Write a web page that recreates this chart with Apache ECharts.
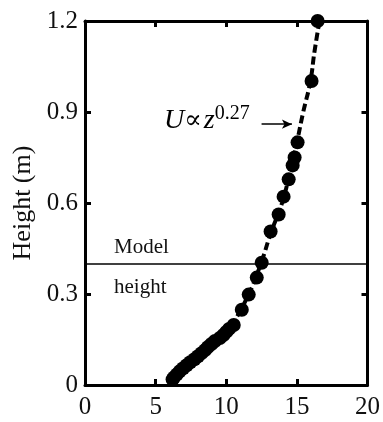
<!DOCTYPE html>
<html>
<head>
<meta charset="utf-8">
<script src="https://cdn.jsdelivr.net/npm/echarts@6/dist/echarts.min.js"></script>
<style>html,body{margin:0;padding:0;background:#fff;}#c{width:383px;height:422px;}</style>
</head>
<body>
<div id="c"></div>
<script>
// Measured velocity profile: U (x) vs height (y)
var measU = [16.47, 16.04, 15.05, 14.84, 14.70, 14.42, 14.06, 13.71, 13.14, 12.51, 12.16, 11.59, 11.10, 10.53,
             10.2, 10.0, 9.8, 9.55, 9.2, 8.95, 8.7, 8.5, 8.25, 8.0, 7.75, 7.45, 7.2, 6.95, 6.7, 6.5, 6.3, 6.2];
var measZ = [1.200, 1.002, 0.800, 0.750, 0.724, 0.678, 0.621, 0.562, 0.506, 0.403, 0.354, 0.298, 0.248, 0.198,
             0.185, 0.175, 0.165, 0.155, 0.145, 0.135, 0.125, 0.115, 0.105, 0.095, 0.085, 0.075, 0.065, 0.055, 0.045, 0.035, 0.025, 0.018];
// Power-law fit curve (dashed)
var fitU = [16.6, 16.25, 15.95, 15.45, 15.0, 14.5, 13.95, 13.15, 12.45, 11.6, 10.45];
var fitZ = [1.2, 1.1, 1.0, 0.9, 0.8, 0.7, 0.6, 0.5, 0.4, 0.3, 0.2];
var xTicks = ['0', '5', '10', '15', '20'];
var yTicks = ['0', '0.3', '0.6', '0.9', '1.2'];
var modelHeight = 0.4;
var arrowFrom = [12.5, 0.86], arrowTo = [14.65, 0.86];

var FONT = '"Liberation Serif", "Times New Roman", serif';
var chart = echarts.init(document.getElementById('c'), null, {renderer: 'canvas'});

function zip(a, b) { return a.map(function (v, i) { return [v, b[i]]; }); }

var tickStyle = {show: true, inside: true, length: 6, lineStyle: {color: '#000', width: 3}};
var lineStyleAxis = {show: true, onZero: false, lineStyle: {color: '#000', width: 3}};

chart.setOption({
  animation: false,
  backgroundColor: '#fff',
  grid: {left: 85, right: 15, top: 21, bottom: 37, show: false},
  xAxis: [{
    type: 'value', min: 0, max: 20, interval: 5, position: 'bottom',
    axisLine: lineStyleAxis, axisTick: tickStyle, splitLine: {show: false},
    axisLabel: {color: '#111', fontFamily: FONT, fontSize: 25, fontWeight: 'normal', margin: 10,
      formatter: function (v) { return xTicks[Math.round(v / 5)]; }}
  }, {
    type: 'value', min: 0, max: 20, interval: 5, position: 'top',
    axisLine: lineStyleAxis, axisTick: tickStyle, splitLine: {show: false},
    axisLabel: {show: false}
  }],
  yAxis: [{
    type: 'value', min: 0, max: 1.2, interval: 0.3, position: 'left',
    name: 'Height (m)', nameLocation: 'middle', nameGap: 48,
    nameTextStyle: {color: '#111', fontFamily: FONT, fontSize: 26, fontWeight: 'normal'},
    axisLine: lineStyleAxis, axisTick: tickStyle, splitLine: {show: false},
    axisLabel: {color: '#111', fontFamily: FONT, fontSize: 25, fontWeight: 'normal', margin: 7,
      formatter: function (v) { return yTicks[Math.round(v / 0.3)]; }}
  }, {
    type: 'value', min: 0, max: 1.2, interval: 0.3, position: 'right',
    axisLine: lineStyleAxis, axisTick: tickStyle, splitLine: {show: false},
    axisLabel: {show: false}
  }],
  series: [{
    type: 'line', data: zip(fitU, fitZ), smooth: true, symbol: 'none',
    lineStyle: {color: '#000', width: 4, type: [8, 4]}, z: 2,
    markLine: {
      silent: true, symbol: ['none', 'none'], label: {show: false},
      lineStyle: {color: '#000', width: 1.5, type: 'solid'},
      data: [{yAxis: modelHeight}]
    }
  }, {
    type: 'line', data: [], symbol: 'none',
    markLine: {
      silent: true, symbol: ['none', 'arrow'], symbolSize: [7, 10], label: {show: false},
      lineStyle: {color: '#000', width: 1.5, type: 'solid'},
      data: [[{coord: arrowFrom}, {coord: arrowTo}]]
    }
  }, {
    type: 'scatter', data: zip(measU, measZ), symbol: 'circle', symbolSize: 14,
    itemStyle: {color: '#000', opacity: 1}, z: 3
  }],
  graphic: [
    {type: 'text', left: 114, top: 237, style: {text: 'Model', font: '21px ' + FONT, fill: '#111'}},
    {type: 'text', left: 114, top: 277, style: {text: 'height', font: '21px ' + FONT, fill: '#111'}},
    {type: 'text', left: 164, top: 104, style: {
      rich: {
        b: {fontFamily: FONT, fontSize: 28, fontStyle: 'italic', color: '#000'},
        z: {fontFamily: FONT, fontSize: 28, fontStyle: 'italic', color: '#000', padding: [0, 0, 0, 2]},
        p: {fontFamily: '"DejaVu Serif", serif', fontSize: 26, color: '#000'},
        s: {fontFamily: FONT, fontSize: 20, color: '#000', verticalAlign: 'top', padding: [0, 0, 14, 0]}
      },
      text: '{b|U}{p|\u221D}{z|z}{s|0.27}'
    }}
  ]
});
</script>
</body>
</html>
